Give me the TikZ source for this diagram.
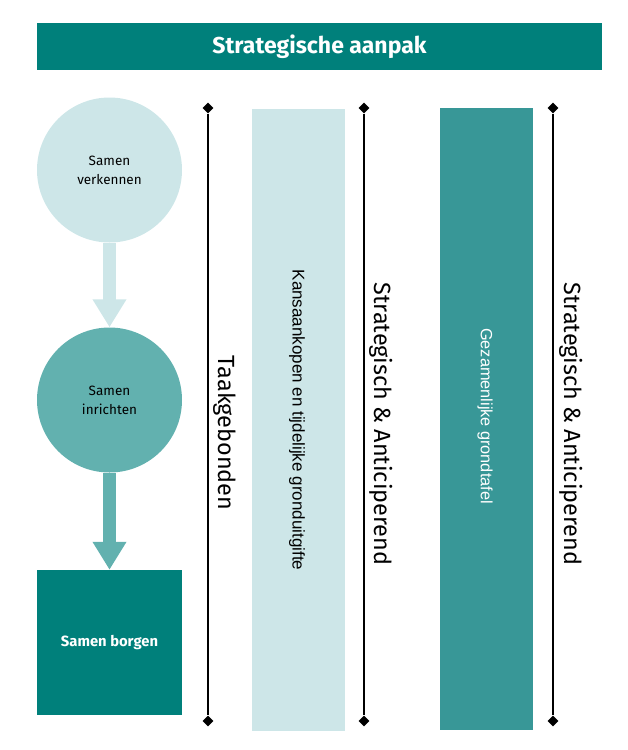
\documentclass[tikz,border=0pt]{standalone}
\usepackage{fontspec}
\setmainfont{Fira Sans}
\newfontfamily\arialfont{Liberation Sans}
\usetikzlibrary{arrows.meta,shapes.geometric}
\definecolor{tdark}{HTML}{00807B}
\definecolor{tmid}{HTML}{62B1AF}
\definecolor{tlight}{HTML}{CDE6E8}
\definecolor{trect}{HTML}{389797}
\tikzset{
  phase/.style={circle,minimum size=145pt,inner sep=0pt,align=center,font=\fontsize{13.5}{19}\selectfont},
  bar/.style={rectangle,inner sep=0pt,minimum width=93pt,minimum height=622pt},
  dia/.style={diamond,fill=black,minimum size=11pt,inner sep=0pt},
  vline/.style={line width=1.6pt},
  blockarrow/.style={line width=13pt,-{Triangle[length=28pt,width=32pt]}},
  vlabel/.style={rotate=-90,font=\fontsize{23.4}{26}\selectfont}
}
\begin{document}
\begin{tikzpicture}[x=1pt,y=-1pt]
\useasboundingbox (0,0) rectangle (627,750);
\node[fill=tdark,minimum width=565pt,minimum height=47pt,inner sep=0pt,text=white,font=\bfseries\fontsize{23}{26}\selectfont] (title) at (319.5,46.5) {Strategische aanpak};
\node[phase,fill=tlight] (c1) at (109.5,170) {Samen\\verkennen};
\node[phase,fill=tmid] (c2) at (109.5,400) {Samen\\inrichten};
\node[rectangle,minimum size=145pt,inner sep=0pt,fill=tdark,text=white,font=\bfseries\fontsize{14.8}{17}\selectfont] (sq) at (109.5,642.5) {Samen borgen};
\draw[blockarrow,draw=tlight,fill=tlight] (c1.south) -- (c2.north);
\draw[blockarrow,draw=tmid,fill=tmid] (c2.south) -- (sq.north);
% lines
\node[dia] (t1) at (208,108) {};
\node[dia] (b1) at (208,721) {};
\draw[vline] (t1) -- (b1);
\node[vlabel] (l1) at (225,433) {Taakgebonden};
\node[dia] (t2) at (364,108) {};
\node[dia] (b2) at (364,721) {};
\draw[vline] (t2) -- (b2);
\node[vlabel] (l2) at (381,424) {Strategisch \& Anticiperend};
\node[dia] (t3) at (553,108) {};
\node[dia] (b3) at (553,721) {};
\draw[vline] (t3) -- (b3);
\node[vlabel] (l3) at (571,424) {Strategisch \& Anticiperend};
% bars
\node[bar,fill=tlight] (r1) at (298.5,420) {};
\node[rotate=-90,font=\arialfont\fontsize{17}{19}\selectfont] (r1t) at (297,420) {Kansaankopen en tijdelijke gronduitgifte};
\node[bar,fill=trect] (r2) at (486,418.5) {};
\node[rotate=-90,text=white,font=\arialfont\fontsize{16.3}{19}\selectfont] (r2t) at (485,416) {Gezamenlijke grondtafel};
\end{tikzpicture}
\end{document}
